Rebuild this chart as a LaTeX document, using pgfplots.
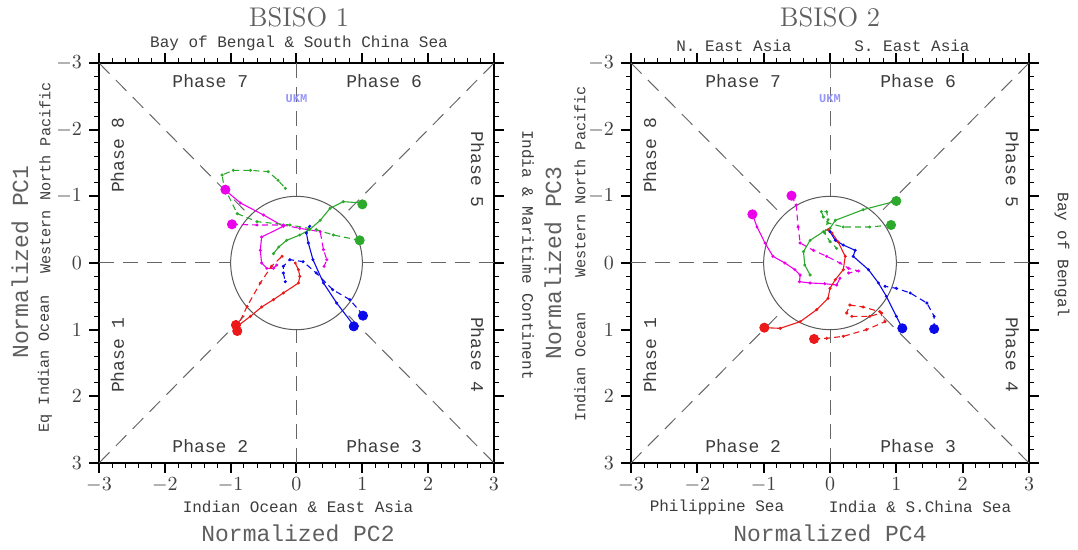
\documentclass[border=0pt]{standalone}
\usepackage{pgfplots}
\pgfplotsset{compat=1.18}
\usepackage{fontspec}
\newfontfamily\mono{Liberation Mono}
\definecolor{cmag}{RGB}{235,0,235}
\definecolor{cred}{RGB}{235,25,25}
\definecolor{cblue}{RGB}{10,10,235}
\definecolor{cgreen}{RGB}{45,170,45}
\definecolor{ukm}{RGB}{150,150,250}
\definecolor{lab}{RGB}{60,60,60}
\definecolor{big}{RGB}{95,95,95}
\tikzset{
  refline/.style={draw=black!60, line width=0.5pt, dash pattern=on 7.5pt off 4.5pt},
  phase/.style={font=\mono\fontsize{9}{9}\selectfont, text=lab, inner sep=0pt},
  small/.style={font=\mono\fontsize{8}{8}\selectfont, text=lab, inner sep=0pt},
  vsmall/.style={font=\mono\fontsize{7.6}{7.6}\selectfont, text=lab, inner sep=0pt},
  bigl/.style={font=\mono\fontsize{11.5}{11.5}\selectfont, text=big, inner sep=0pt},
  ttl/.style={font=\fontsize{13.5}{13.5}\selectfont, text=big, inner sep=0pt},
}
\pgfplotsset{
  rmm/.style={line width=0.55pt, mark=*, mark size=0.45pt, mark options={solid}},
  solidtr/.style={rmm, solid},
  dashtr/.style={rmm, dash pattern=on 3pt off 2pt},
  bigdot/.style={only marks, mark=*, mark size=2.3pt},
  panel/.style={
    anchor=south west, scale only axis, width=197.5pt, height=200pt,
    xmin=-3, xmax=3, ymin=-3, ymax=3, y dir=reverse,
    xtick={-3,...,3}, ytick={-3,...,3}, minor tick num=4,
    tick align=outside, tick pos=both, xticklabel pos=lower, yticklabel pos=left,
    major tick length=5pt, minor tick length=2.5pt,
    axis line style={line width=1.2pt},
    every tick/.style={black, line width=1pt},
    minor tick style={line width=0.5pt},
    ticklabel style={font=\fontsize{10}{10}\selectfont, text=black!75},
    xticklabel style={yshift=1pt},
    clip=false,
  }
}
\newcommand{\panelframe}{%
  \draw[black!65, line width=0.5pt] (axis cs:0,0) ellipse [x radius=1, y radius=1];
  \draw[refline] (axis cs:-3,-3) -- (axis cs:-0.7071,-0.7071);
  \draw[refline] (axis cs:3,-3) -- (axis cs:0.7071,-0.7071);
  \draw[refline] (axis cs:-3,3) -- (axis cs:-0.7071,0.7071);
  \draw[refline] (axis cs:3,3) -- (axis cs:0.7071,0.7071);
  \draw[refline] (axis cs:0,-3) -- (axis cs:0,-1);
  \draw[refline] (axis cs:0,3) -- (axis cs:0,1);
  \draw[refline] (axis cs:-3,0) -- (axis cs:-1,0);
  \draw[refline] (axis cs:3,0) -- (axis cs:1,0);
  \node[phase] at (axis cs:-1.31,-2.73) {Phase 7};
  \node[phase] at (axis cs:1.33,-2.73) {Phase 6};
  \node[phase] at (axis cs:-1.31,2.74) {Phase 2};
  \node[phase] at (axis cs:1.33,2.74) {Phase 3};
  \node[phase, rotate=90] at (axis cs:-2.72,-1.62) {Phase 8};
  \node[phase, rotate=90] at (axis cs:-2.72,1.38) {Phase 1};
  \node[phase, rotate=-90] at (axis cs:2.75,-1.4) {Phase 5};
  \node[phase, rotate=-90] at (axis cs:2.75,1.38) {Phase 4};
  \node[font=\mono\fontsize{6}{6}\selectfont\bfseries, text=ukm, inner sep=0pt] at (axis cs:0,-2.46) {UKM};
}
\begin{document}
\begin{tikzpicture}
\path[use as bounding box] (0,0) rectangle (539pt,275pt);
% ---------------- BSISO 1 ----------------
\begin{axis}[panel, at={(49.5pt,43.5pt)}]
\panelframe
% magenta
\addplot[cmag, solidtr] coordinates {(-1.08,-1.09) (-0.85,-0.90) (-0.5,-0.72) (-0.2,-0.55) (-0.53,-0.39) (-0.55,-0.19) (-0.53,0.0) (-0.45,0.08) (-0.35,0.08) (-0.3,0.03)};
\addplot[cmag, dashtr] coordinates {(-0.98,-0.58) (-0.6,-0.57) (-0.2,-0.57) (0.05,-0.52) (0.36,-0.47) (0.41,-0.2) (0.46,-0.05) (0.42,0.05)};
% red
\addplot[cred, solidtr] coordinates {(-0.9,0.95) (-0.7,0.8) (-0.53,0.66) (-0.35,0.55) (-0.2,0.45) (0.03,0.3) (0.05,0.2) (0.03,0.1) (-0.02,0.0)};
\addplot[cred, dashtr] coordinates {(-0.92,1.0) (-0.75,0.65) (-0.55,0.3) (-0.38,0.05) (-0.22,-0.1)};
% blue
\addplot[cblue, solidtr] coordinates {(0.88,0.95) (0.61,0.6) (0.41,0.3) (0.25,-0.05) (0.18,-0.3) (0.15,-0.45) (0.2,-0.55)};
\addplot[cblue, dashtr] coordinates {(1.01,0.78) (0.81,0.55) (0.55,0.4) (0.3,0.15) (0.1,-0.02) (-0.1,-0.05) (-0.2,0.05) (-0.2,0.15) (-0.17,0.28)};
% green
\addplot[cgreen, solidtr] coordinates {(1.0,-0.9) (0.71,-0.92) (0.51,-0.82) (0.36,-0.64) (0.2,-0.5) (0.05,-0.42) (-0.15,-0.34) (-0.27,-0.24) (-0.35,-0.14)};
\addplot[cgreen, dashtr] coordinates {(0.96,-0.34) (0.56,-0.42) (0.3,-0.5) (-0.1,-0.57) (-0.6,-0.62) (-0.9,-0.74) (-1.1,-1.14) (-1.13,-1.32) (-0.96,-1.39) (-0.7,-1.39) (-0.43,-1.37) (-0.28,-1.24) (-0.17,-1.12)};
% start dots
\addplot[cmag, bigdot] coordinates {(-1.08,-1.1) (-0.98,-0.58)};
\addplot[cred, bigdot] coordinates {(-0.92,0.93) (-0.9,1.02)};
\addplot[cblue, bigdot] coordinates {(0.87,0.95) (1.01,0.79)};
\addplot[cgreen, bigdot] coordinates {(1.0,-0.88) (0.96,-0.34)};
\end{axis}
% ---------------- BSISO 2 ----------------
\begin{axis}[panel, at={(315.5pt,43.5pt)}, width=199pt]
\panelframe
\addplot[cmag, solidtr] coordinates {(-1.17,-0.73) (-1.1,-0.54) (-0.98,-0.3) (-0.86,-0.1) (-0.68,0.0) (-0.53,0.1) (-0.45,0.18) (-0.46,0.28) (-0.3,0.3) (-0.08,0.31) (0.1,0.33) (0.15,0.23)};
\addplot[cmag, dashtr] coordinates {(-0.58,-1.01) (-0.51,-0.87) (-0.48,-0.54) (-0.45,-0.3) (-0.25,-0.19) (-0.05,-0.1) (0.15,0.0) (0.28,0.08) (0.43,0.12) (0.28,0.15)};
\addplot[cgreen, solidtr] coordinates {(1.0,-0.93) (0.5,-0.8) (0.08,-0.64) (0.0,-0.52) (-0.1,-0.47) (-0.3,-0.34) (-0.4,-0.17) (-0.38,0.03) (-0.3,0.18)};
\addplot[cgreen, dashtr] coordinates {(0.92,-0.57) (0.6,-0.54) (0.2,-0.54) (-0.03,-0.6) (-0.1,-0.69) (-0.13,-0.77) (-0.05,-0.77) (-0.03,-0.65) (-0.08,-0.45) (0.0,-0.32) (0.1,-0.22)};
\addplot[cred, solidtr] coordinates {(-0.99,0.97) (-0.75,0.98) (-0.45,0.88) (-0.2,0.7) (-0.03,0.53) (0.0,0.38) (0.08,0.25) (0.2,0.1) (0.23,-0.1) (0.12,-0.32) (0.03,-0.45) (-0.03,-0.5)};
\addplot[cred, dashtr] coordinates {(-0.24,1.14) (-0.05,1.13) (0.2,1.1) (0.55,1.0) (0.83,0.88) (0.75,0.73) (0.5,0.66) (0.3,0.63) (0.25,0.75) (0.33,0.8) (0.6,0.8) (0.78,0.75)};
\addplot[cblue, solidtr] coordinates {(1.09,0.98) (1.0,0.8) (0.85,0.5) (0.73,0.3) (0.58,0.1) (0.35,-0.1) (0.38,-0.19) (0.2,-0.27) (0.08,-0.34) (0.0,-0.47)};
\addplot[cblue, dashtr] coordinates {(1.57,0.99) (1.57,0.8) (1.46,0.6) (1.21,0.45) (1.0,0.38) (0.83,0.35)};
\addplot[cmag, bigdot] coordinates {(-1.17,-0.73) (-0.58,-1.01)};
\addplot[cgreen, bigdot] coordinates {(1.0,-0.93) (0.92,-0.57)};
\addplot[cred, bigdot] coordinates {(-0.99,0.97) (-0.24,1.14)};
\addplot[cblue, bigdot] coordinates {(1.09,0.98) (1.57,0.99)};
\end{axis}
% ---------------- labels ----------------
\node[ttl] at (149.5pt,266.5pt) {BSISO 1};
\node[small] at (149.5pt,253.5pt) {Bay of Bengal \& South China Sea};
\node[small] at (149pt,21.5pt) {Indian Ocean \& East Asia};
\node[bigl] at (149pt,8.5pt) {Normalized PC2};
\node[bigl, rotate=90] at (10pt,144pt) {Normalized PC1};
\node[vsmall, rotate=90] at (22.5pt,93pt) {Eq Indian Ocean};
\node[vsmall, rotate=90] at (22.5pt,186pt) {Western North Pacific};
\node[small, rotate=-90] at (264pt,147.5pt) {India \& Maritime Continent};
\node[ttl] at (415pt,266.5pt) {BSISO 2};
\node[small] at (367pt,252pt) {N. East Asia};
\node[small] at (456pt,252pt) {S. East Asia};
\node[small] at (358.5pt,21.5pt) {Philippine Sea};
\node[small] at (460pt,21.5pt) {India \& S.China Sea};
\node[bigl] at (415pt,8.5pt) {Normalized PC4};
\node[bigl, rotate=90] at (276.5pt,143.5pt) {Normalized PC3};
\node[vsmall, rotate=90] at (290pt,91.5pt) {Indian Ocean};
\node[vsmall, rotate=90] at (290pt,184pt) {Western North Pacific};
\node[small, rotate=-90] at (531pt,147.5pt) {Bay of Bengal};
\end{tikzpicture}
\end{document}
